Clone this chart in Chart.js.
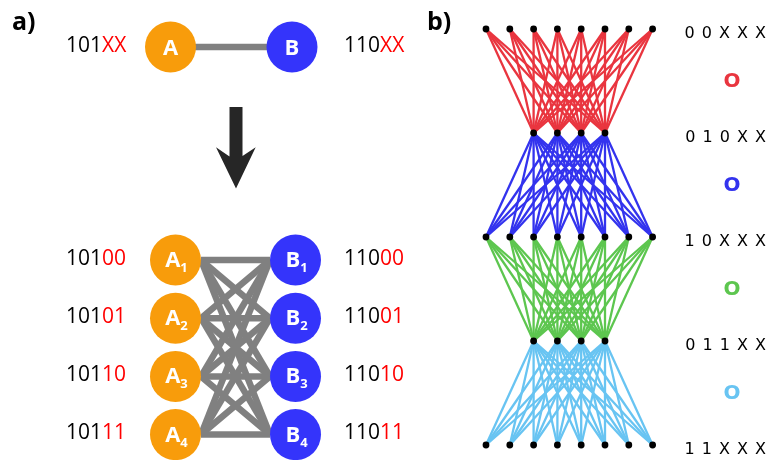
<!DOCTYPE html>
<html>
<head>
<meta charset="utf-8">
<script src="https://cdn.jsdelivr.net/npm/chart.js@4/dist/chart.umd.min.js"></script>
<style>
  html, body { margin: 0; padding: 0; background: #ffffff; }
  canvas { display: block; }
</style>
</head>
<body>
<canvas id="c" width="772" height="460"></canvas>
<script>
// ---- Panel a: two nodes, each split into four sub-nodes ----
const groupNames = ['A', 'B'];
const groupCodes = ['101XX', '110XX'];
const subCodesA = ['10100', '10101', '10110', '10111'];
const subCodesB = ['11000', '11001', '11010', '11011'];
const subIndices = ['1', '2', '3', '4'];

// ---- Panel b: layered network ----
const levelWidths = [8, 4, 8, 4, 8];
const levelCodes = ['0 0 X X X', '0 1 0 X X', '1 0 X X X', '0 1 1 X X', '1 1 X X X'];
const bandMarks = ['O', 'O', 'O', 'O'];
const bandColors = ['#e9353f', '#3333ee', '#5dc64f', '#68c4f2'];

// ---- layout (pixel frame of the canvas) ----
const L = {
  topY: 47, aX: 170.5, bX: 292, r: 25.5,
  subAX: 175.5, subBX: 295.5, subY0: 260, subStep: 58.2,
  netX0: 486, netDX: 23.8, netY0: 29, netDY: 104, maxWidth: 8,
  codeLeftX: 66, codeRightX: 344, codeRightEdge: 767, markX: 732
};
const ORANGE = '#f89c0b';
const BLUE = '#3434fb';
const GREY = '#808080';

const subY = i => L.subY0 + i * L.subStep;
const netNodes = (lvl) => {
  const w = levelWidths[lvl];
  const off = (L.maxWidth - w) / 2;
  return Array.from({ length: w }, (_, i) => ({ x: L.netX0 + (off + i) * L.netDX, y: L.netY0 + lvl * L.netDY }));
};

const datasets = [];
const seg = (p, q, color, width, order) => ({
  type: 'scatter', data: [p, q], showLine: true, borderColor: color, borderWidth: width,
  pointRadius: 0, tension: 0, order: order, borderCapStyle: 'butt'
});

// link between the two group nodes
datasets.push(seg({ x: L.aX, y: L.topY }, { x: L.bX, y: L.topY }, GREY, 6.5, 10));

// all links between sub-nodes of A and B
subCodesA.forEach((_, i) => {
  subCodesB.forEach((_, j) => {
    datasets.push(seg({ x: L.subAX + L.r, y: subY(i) }, { x: L.subBX - L.r, y: subY(j) }, GREY, 6.5, 10));
  });
});

// network bands: every node of one level to every node of the next
bandColors.forEach((col, k) => {
  const upper = netNodes(k), lower = netNodes(k + 1);
  upper.forEach(p => lower.forEach(q => datasets.push(seg(p, q, col, 2.3, 10))));
});

// down arrow
datasets.push({
  type: 'line', order: 5, showLine: true, fill: 'shape', backgroundColor: '#262626',
  borderColor: '#262626', borderWidth: 0, pointRadius: 0, tension: 0,
  data: [
    { x: 229.5, y: 107 }, { x: 242.5, y: 107 }, { x: 242.5, y: 156 }, { x: 255.7, y: 147.3 },
    { x: 236, y: 188.5 }, { x: 216, y: 147.3 }, { x: 229.5, y: 156.5 }, { x: 229.5, y: 107 }
  ]
});

// group nodes and sub-nodes
datasets.push({ type: 'scatter', order: 1, pointRadius: L.r, pointBackgroundColor: ORANGE, pointBorderWidth: 0,
  data: [{ x: L.aX, y: L.topY }].concat(subCodesA.map((_, i) => ({ x: L.subAX, y: subY(i) }))) });
datasets.push({ type: 'scatter', order: 1, pointRadius: L.r, pointBackgroundColor: BLUE, pointBorderWidth: 0,
  data: [{ x: L.bX, y: L.topY }].concat(subCodesB.map((_, i) => ({ x: L.subBX, y: subY(i) }))) });

// network nodes
datasets.push({ type: 'scatter', order: 1, pointRadius: 3.4, pointBackgroundColor: '#000000', pointBorderWidth: 0,
  data: levelWidths.flatMap((_, l) => netNodes(l)) });

// text layer
const textLayer = {
  id: 'textLayer',
  afterDatasetsDraw(chart) {
    const ctx = chart.ctx;
    const sx = v => chart.scales.x.getPixelForValue(v);
    const sy = v => chart.scales.y.getPixelForValue(v);
    ctx.save();
    ctx.textBaseline = 'alphabetic';

    const code = (str, x, y) => {
      ctx.font = '21px "Open Sans"';
      ctx.textAlign = 'left';
      const head = str.slice(0, 3), tail = str.slice(3);
      ctx.fillStyle = '#000000';
      ctx.fillText(head, sx(x), sy(y));
      const w = ctx.measureText(head).width;
      ctx.fillStyle = '#ff0000';
      ctx.fillText(tail, sx(x) + w, sy(y));
    };

    // panel letters
    ctx.fillStyle = '#000000';
    ctx.font = 'bold 25px "Open Sans"';
    ctx.textAlign = 'left';
    ctx.fillText('a)', sx(12), sy(30));
    ctx.fillText('b)', sx(427), sy(30));

    // group codes and names
    code(groupCodes[0], L.codeLeftX, L.topY + 5);
    code(groupCodes[1], L.codeRightX, L.topY + 5);
    ctx.fillStyle = '#ffffff';
    ctx.font = 'bold 22px "Open Sans"';
    ctx.textAlign = 'center';
    ctx.fillText(groupNames[0], sx(L.aX), sy(L.topY + 8));
    ctx.fillText(groupNames[1], sx(L.bX), sy(L.topY + 8));

    // sub-node codes and names
    const subName = (name, idx, cx, cy) => {
      ctx.font = 'bold 22px "Open Sans"';
      const w1 = ctx.measureText(name).width;
      ctx.font = 'bold 13px "Open Sans"';
      const w2 = ctx.measureText(idx).width;
      const x0 = sx(cx) - (w1 + w2) / 2 + 1;
      ctx.fillStyle = '#ffffff';
      ctx.textAlign = 'left';
      ctx.font = 'bold 22px "Open Sans"';
      ctx.fillText(name, x0, sy(cy + 7));
      ctx.font = 'bold 13px "Open Sans"';
      ctx.fillText(idx, x0 + w1, sy(cy + 12));
    };
    subCodesA.forEach((c, i) => {
      code(c, L.codeLeftX, subY(i) + 4.5);
      subName(groupNames[0], subIndices[i], L.subAX, subY(i));
    });
    subCodesB.forEach((c, i) => {
      code(c, L.codeRightX, subY(i) + 4.5);
      subName(groupNames[1], subIndices[i], L.subBX, subY(i));
    });

    // level codes of the network
    ctx.font = '16px "DejaVu Sans"';
    ctx.textAlign = 'right';
    ctx.fillStyle = '#000000';
    if ('letterSpacing' in ctx) ctx.letterSpacing = '1px';
    levelCodes.forEach((c, l) => {
      ctx.fillText(c, sx(L.codeRightEdge), sy(L.netY0 + l * L.netDY + 9));
    });
    if ('letterSpacing' in ctx) ctx.letterSpacing = '0px';

    // band marks
    ctx.font = 'bold 20px "DejaVu Sans"';
    ctx.textAlign = 'center';
    ctx.textBaseline = 'middle';
    bandMarks.forEach((m, k) => {
      ctx.fillStyle = bandColors[k];
      ctx.fillText(m, sx(L.markX), sy(L.netY0 + (k + 0.5) * L.netDY + 1));
    });
    ctx.restore();
  }
};

new Chart(document.getElementById('c'), {
  type: 'scatter',
  data: { datasets },
  options: {
    responsive: false,
    devicePixelRatio: 1,
    animation: false,
    events: [],
    layout: { padding: 0, autoPadding: false },
    plugins: { legend: { display: false }, tooltip: { enabled: false }, title: { display: false } },
    scales: {
      x: { type: 'linear', min: 0, max: 772, display: false },
      y: { type: 'linear', min: 0, max: 460, reverse: true, display: false }
    }
  },
  plugins: [textLayer]
});
</script>
</body>
</html>
